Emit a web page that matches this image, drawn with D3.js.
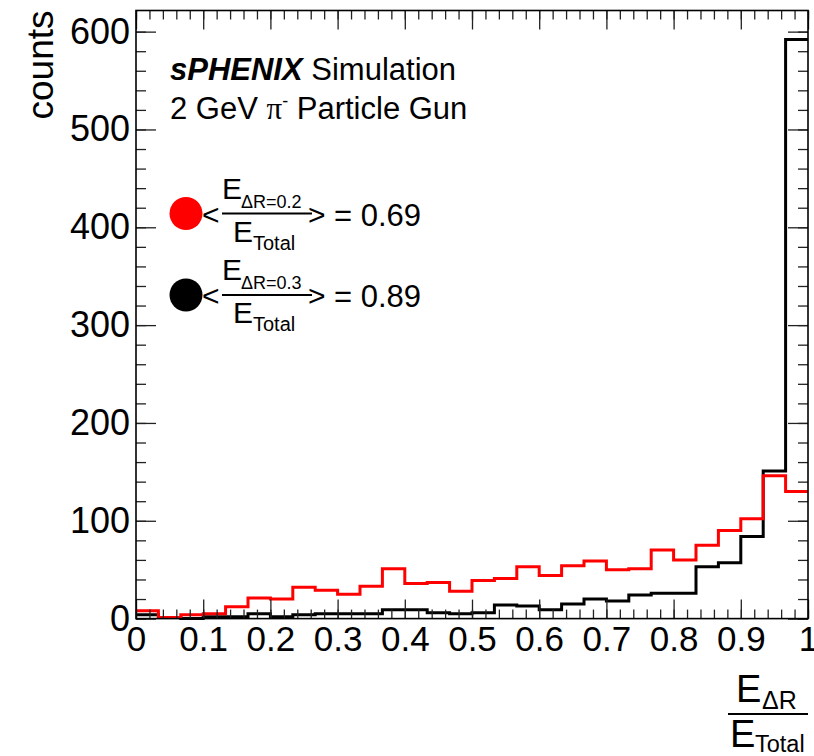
<!DOCTYPE html>
<html lang="en">
<head>
  <meta charset="UTF-8">
  <title>sPHENIX energy fraction</title>
<script src="https://d3js.org/d3.v7.min.js"></script>
<style>
  body { margin: 0; background: #fff; }
  text { font-family: "Liberation Sans", Arial, Helvetica, sans-serif; fill: #000; }
</style>
</head>
<body>
<div id="chart"></div>

  <script>

const nBins = 30;
const xRange = [0, 1];
const yMax = 621.6;

// counts per bin, dR = 0.2 cone (red) and dR = 0.3 cone (black)
const countsR02 = [8, 1, 4, 5, 12, 21, 20, 32, 29, 25, 33, 51, 36, 37, 28,
                   39, 41, 53, 44, 54, 59, 50, 51, 70, 60, 75, 90, 102, 146, 130];
const countsR03 = [4, 1, 0, 2, 2, 5, 2, 4, 5, 5, 5, 9, 9, 6, 5,
                   6, 14, 13, 9, 15, 20, 18, 24, 26, 26, 53, 57, 84, 151, 592];

const xTicks = [0, 0.1, 0.2, 0.3, 0.4, 0.5, 0.6, 0.7, 0.8, 0.9, 1];
const yTicks = [0, 100, 200, 300, 400, 500, 600];
const legendMeans = ['0.69', '0.89'];
const legendCones = ['0.2', '0.3'];
const legendColors = ['#ff0000', '#000000'];

const width = 814;
const height = 756;
const frame = { left: 136, right: 808, top: 10.5, bottom: 618.6 };

const svg = d3.select('#chart')
  .append('svg')
  .attr('width', width)
  .attr('height', height);

const x = d3.scaleLinear().domain(xRange).range([frame.left, frame.right]);
const y = d3.scaleLinear().domain([0, yMax]).range([frame.bottom, frame.top]);

// histogram outlines
const binW = (xRange[1] - xRange[0]) / nBins;
function stepPoints(vals) {
  const pts = vals.map((v, i) => [xRange[0] + i * binW, v]);
  pts.push([xRange[1], vals[vals.length - 1]]);
  return pts;
}
const line = d3.line()
  .x(d => x(d[0]))
  .y(d => y(d[1]))
  .curve(d3.curveStepAfter);

svg.append('path')
  .attr('d', line(stepPoints(countsR03)))
  .attr('fill', 'none')
  .attr('stroke', '#000')
  .attr('stroke-width', 3);

svg.append('path')
  .attr('d', line(stepPoints(countsR02)))
  .attr('fill', 'none')
  .attr('stroke', '#ff0000')
  .attr('stroke-width', 3);

// axes, ROOT style ticks pointing inward
const minorX = d3.range(0, 51).map(i => i * 0.02);
const minorY = d3.range(0, 31).map(i => i * 20).filter(v => v <= yMax);

function styleAxis(g) {
  g.select('.domain').remove();
  g.selectAll('line').attr('stroke', '#222').attr('stroke-width', 1.3);
}

svg.append('g')
  .attr('transform', `translate(0,${frame.bottom})`)
  .call(d3.axisBottom(x).tickValues(minorX).tickSize(-9).tickFormat(''))
  .call(styleAxis);
svg.append('g')
  .attr('transform', `translate(0,${frame.bottom})`)
  .call(d3.axisBottom(x).tickValues(xTicks).tickSize(-19).tickPadding(8)
    .tickFormat(d => d3.format('')(d)))
  .call(styleAxis)
  .call(g => g.selectAll('text')
    .attr('font-size', 35)
    .attr('font-family', '"Liberation Sans", Arial, sans-serif')
    .attr('fill', '#000'));

svg.append('g')
  .attr('transform', `translate(0,${frame.top})`)
  .call(d3.axisTop(x).tickValues(minorX).tickSize(-9).tickFormat(''))
  .call(styleAxis);
svg.append('g')
  .attr('transform', `translate(0,${frame.top})`)
  .call(d3.axisTop(x).tickValues(xTicks).tickSize(-19).tickFormat(''))
  .call(styleAxis);

svg.append('g')
  .attr('transform', `translate(${frame.left},0)`)
  .call(d3.axisLeft(y).tickValues(minorY).tickSize(-10).tickFormat(''))
  .call(styleAxis);
svg.append('g')
  .attr('transform', `translate(${frame.left},0)`)
  .call(d3.axisLeft(y).tickValues(yTicks).tickSize(-20).tickPadding(6))
  .call(styleAxis)
  .call(g => g.selectAll('text')
    .attr('font-size', 36)
    .attr('font-family', '"Liberation Sans", Arial, sans-serif')
    .attr('fill', '#000'));

svg.append('g')
  .attr('transform', `translate(${frame.right},0)`)
  .call(d3.axisRight(y).tickValues(minorY).tickSize(-10).tickFormat(''))
  .call(styleAxis);
svg.append('g')
  .attr('transform', `translate(${frame.right},0)`)
  .call(d3.axisRight(y).tickValues(yTicks).tickSize(-20).tickFormat(''))
  .call(styleAxis);

// frame
svg.append('rect')
  .attr('x', frame.left)
  .attr('y', frame.top)
  .attr('width', frame.right - frame.left)
  .attr('height', frame.bottom - frame.top)
  .attr('fill', 'none')
  .attr('stroke', '#000')
  .attr('stroke-width', 1.6);

// y title
svg.append('text')
  .attr('transform', `translate(53,${frame.top}) rotate(-90)`)
  .attr('text-anchor', 'end')
  .attr('font-size', 37)
  .text('counts');

// x title as a fraction
const xt = svg.append('g');
xt.append('text').attr('x', 736).attr('y', 702).attr('font-size', 38).text('E');
xt.append('text').attr('x', 762).attr('y', 709).attr('font-size', 25).text('\u0394R');
xt.append('line')
  .attr('x1', 728).attr('x2', 808).attr('y1', 714).attr('y2', 714)
  .attr('stroke', '#000').attr('stroke-width', 2);
xt.append('text').attr('x', 730).attr('y', 747).attr('font-size', 38).text('E');
xt.append('text').attr('x', 755).attr('y', 752).attr('font-size', 23.5).text('Total');

// labels
const t1 = svg.append('text').attr('x', 170).attr('y', 80).attr('font-size', 31);
t1.append('tspan').attr('font-weight', 'bold').attr('font-style', 'italic').text('sPHENIX');
t1.append('tspan').text(' Simulation');

const t2 = svg.append('text').attr('x', 170).attr('y', 119).attr('font-size', 31);
t2.append('tspan').text('2 GeV ');
t2.append('tspan').attr('font-family', '"Liberation Serif", "DejaVu Serif", serif').text('\u03c0');
t2.append('tspan').attr('font-size', 18).attr('dy', -12).text('-');
t2.append('tspan').attr('dy', 12).text(' Particle Gun');

// legend entries
legendMeans.forEach((m, i) => {
  const cy = 213.5 + i * 81.5;
  const g = svg.append('g');
  g.append('circle').attr('cx', 186).attr('cy', cy).attr('r', 16.5).attr('fill', legendColors[i]);
  g.append('text').attr('x', 202).attr('y', cy + 11).attr('font-size', 30).text('<');
  g.append('text').attr('x', 222).attr('y', cy - 15).attr('font-size', 30).text('E');
  g.append('text').attr('x', 241).attr('y', cy - 6).attr('font-size', 18).text('\u0394R=' + legendCones[i]);
  g.append('line')
    .attr('x1', 222).attr('x2', 312).attr('y1', cy).attr('y2', cy)
    .attr('stroke', '#000').attr('stroke-width', 2);
  g.append('text').attr('x', 233).attr('y', cy + 28).attr('font-size', 30).text('E');
  g.append('text').attr('x', 253).attr('y', cy + 36).attr('font-size', 20).text('Total');
  g.append('text').attr('x', 308).attr('y', cy + 11).attr('font-size', 30).text('>');
  g.append('text').attr('x', 334).attr('y', cy + 12).attr('font-size', 31).text('= ' + m);
});

  </script>
</body>
</html>
